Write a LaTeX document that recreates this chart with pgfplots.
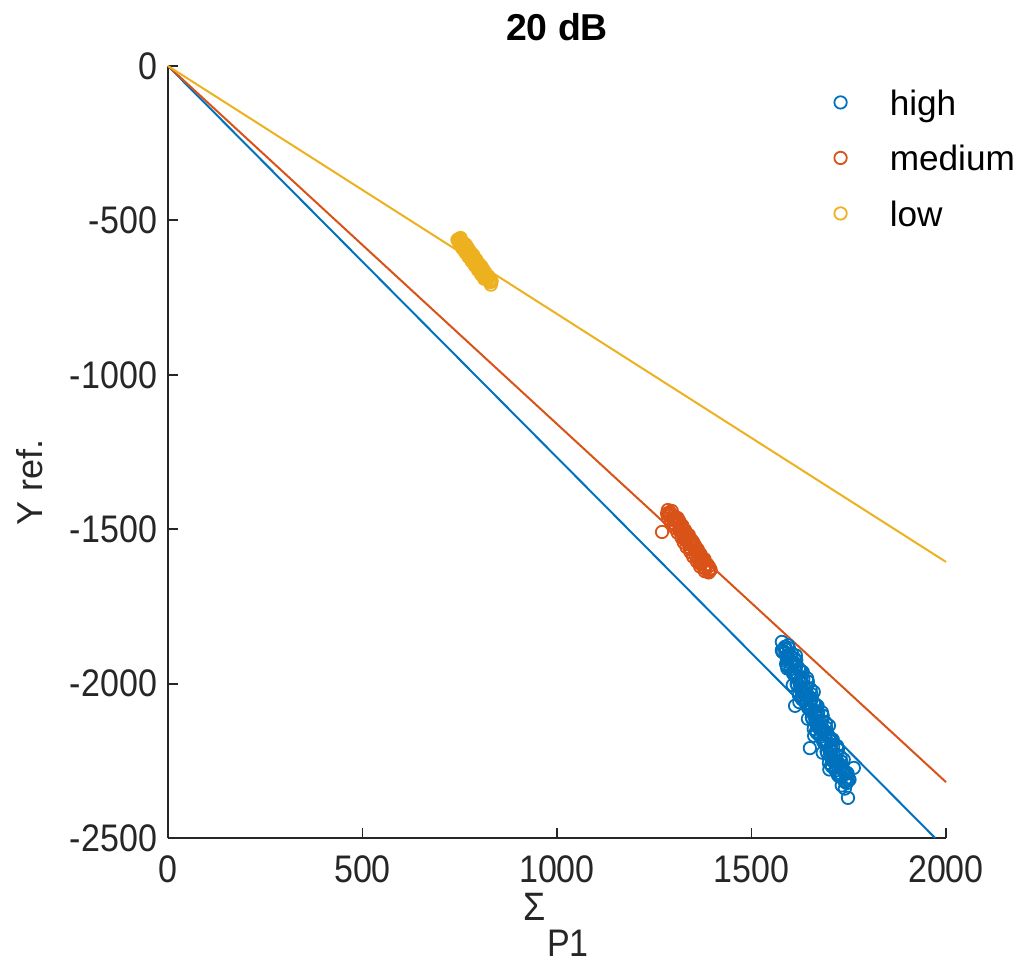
\documentclass[border=0pt]{standalone}
\usepackage{pgfplots}
\pgfplotsset{compat=1.18}
\usepackage{fontspec}
\setmainfont{Liberation Sans}
\definecolor{mblue}{rgb}{0,0.447,0.741}
\definecolor{morange}{rgb}{0.85,0.325,0.098}
\definecolor{myellow}{rgb}{0.929,0.694,0.125}
\definecolor{axgray}{rgb}{0.15,0.15,0.15}
\newcommand{\tall}[1]{\scalebox{1}[1.13]{#1}}
\begin{document}
\begin{tikzpicture}
\path[use as bounding box] (0,0) rectangle (511pt,482pt);
\begin{axis}[
  at={(84pt,63pt)}, anchor=south west,
  scale only axis, width=389pt, height=386pt,
  xmin=0, xmax=2000, ymin=-2500, ymax=0,
  xtick={0,500,1000,1500,2000},
  ytick={-2500,-2000,-1500,-1000,-500,0},
  axis lines=left, axis line style={-, axgray, line width=0.9pt},
  tick align=inside, major tick length=5pt,
  tick style={axgray, line width=0.9pt},
  /pgf/number format/assume math mode=true,
  /pgf/number format/1000 sep={},
  ticklabel style={font=\fontsize{17}{20}\selectfont, text=axgray},
  xticklabel={\tall{\pgfmathprintnumber{\tick}}},
  yticklabel={\tall{\pgfmathprintnumber{\tick}}},
  xticklabel style={yshift=-5.5pt},
  yticklabel style={xshift=-2pt},
  clip=false,
  legend style={draw=none, fill=none, at={(axis description cs:0.856,0.975)}, anchor=north west,
    font=\fontsize{17.6}{20}\selectfont, row sep=9.5pt, inner sep=0pt,
    /tikz/every odd column/.append style={column sep=19.5pt}},
  legend cell align=left,
  legend image code/.code={\draw[mark repeat=2,mark phase=2,#1] plot coordinates {(0pt,0.75pt)(9pt,0.75pt)(18pt,0.75pt)};},
]
\addplot[only marks, mark=o, mark size=3.1pt, mblue, mark options={line width=0.9pt}] coordinates {
(1586,-1881)(1578,-1892)(1604,-1903)(1592,-1914)(1615,-1925)(1589,-1936)(1613,-1947)(1625,-1957)(1607,-1968)(1628,-1979)
(1625,-1990)(1616,-2001)(1642,-2012)(1630,-2023)(1654,-2034)(1628,-2045)(1652,-2056)(1663,-2067)(1645,-2078)(1666,-2089)
(1663,-2100)(1655,-2110)(1681,-2121)(1669,-2132)(1692,-2143)(1666,-2154)(1690,-2165)(1702,-2176)(1684,-2187)(1705,-2198)
(1702,-2209)(1693,-2220)(1719,-2231)(1707,-2242)(1731,-2253)(1705,-2263)(1729,-2274)(1740,-2285)(1722,-2296)(1743,-2307)
(1740,-2318)
(1594,-1876)(1586,-1887)(1580,-1898)(1614,-1909)(1592,-1920)(1608,-1931)(1591,-1942)(1622,-1952)(1632,-1963)(1616,-1974)
(1633,-1985)(1624,-1996)(1618,-2007)(1652,-2018)(1631,-2029)(1647,-2040)(1630,-2051)(1660,-2062)(1670,-2073)(1654,-2084)
(1671,-2095)(1663,-2105)(1657,-2116)(1691,-2127)(1669,-2138)(1685,-2149)(1668,-2160)(1699,-2171)(1709,-2182)(1693,-2193)
(1710,-2204)(1701,-2215)(1695,-2226)(1729,-2237)(1708,-2248)(1724,-2258)(1707,-2269)(1737,-2280)(1747,-2291)(1731,-2302)
(1748,-2313)
(1596,-1885)(1580,-1896)(1593,-1907)(1610,-1918)(1592,-1929)(1616,-1940)(1592,-1951)(1630,-1961)(1610,-1972)(1643,-1983)
(1645,-1994)(1606,-2005)(1630,-2016)(1660,-2027)(1622,-2038)(1655,-2049)(1623,-2060)(1668,-2071)(1648,-2082)(1681,-2093)
(1683,-2104)(1645,-2114)(1669,-2125)(1699,-2136)(1660,-2147)(1693,-2158)(1661,-2169)(1707,-2180)(1687,-2191)(1720,-2202)
(1722,-2213)(1683,-2224)(1707,-2235)(1737,-2246)(1699,-2257)(1732,-2267)(1700,-2278)(1745,-2289)(1725,-2300)(1752,-2311)
(1745,-2322)
(1589,-1888)(1587,-1899)(1600,-1910)(1592,-1921)(1601,-1932)(1614,-1943)(1600,-1954)(1615,-1964)(1615,-1975)(1626,-1986)
(1628,-1997)(1625,-2008)(1638,-2019)(1630,-2030)(1640,-2041)(1653,-2052)(1639,-2063)(1653,-2074)(1653,-2085)(1664,-2096)
(1666,-2107)(1664,-2117)(1677,-2128)(1669,-2139)(1678,-2150)(1691,-2161)(1677,-2172)(1692,-2183)(1692,-2194)(1703,-2205)
(1705,-2216)(1702,-2227)(1715,-2238)(1707,-2249)(1717,-2260)(1730,-2270)(1716,-2281)(1730,-2292)(1730,-2303)(1741,-2314)
(1578,-1865)(1612,-2072)(1650,-2209)(1763,-2273)(1748,-2370)(1740,-2340)(1732,-2330)
};
\addlegendentry{high}
\addplot[only marks, mark=o, mark size=3.1pt, morange, mark options={line width=0.9pt}] coordinates {
(1290,-1445)(1287,-1453)(1304,-1461)(1298,-1468)(1315,-1476)(1301,-1484)(1317,-1492)(1325,-1500)(1316,-1507)(1331,-1515)
(1330,-1523)(1327,-1531)(1344,-1539)(1338,-1546)(1355,-1554)(1341,-1562)(1357,-1570)(1365,-1578)(1356,-1585)(1371,-1593)
(1370,-1601)(1367,-1609)(1384,-1617)(1378,-1624)(1395,-1632)(1390,-1640)
(1295,-1441)(1291,-1449)(1290,-1457)(1310,-1464)(1301,-1472)(1312,-1480)(1305,-1488)(1322,-1496)(1329,-1503)(1324,-1511)
(1335,-1519)(1331,-1527)(1330,-1535)(1350,-1542)(1341,-1550)(1352,-1558)(1345,-1566)(1362,-1574)(1369,-1581)(1364,-1589)
(1375,-1597)(1371,-1605)(1370,-1613)(1390,-1620)(1381,-1628)(1392,-1636)
(1283,-1449)(1300,-1457)(1286,-1465)(1313,-1472)(1293,-1480)(1322,-1488)(1303,-1496)(1328,-1504)(1310,-1511)(1339,-1519)
(1320,-1527)(1346,-1535)(1326,-1543)(1353,-1550)(1333,-1558)(1362,-1566)(1343,-1574)(1368,-1582)(1350,-1589)(1379,-1597)
(1360,-1605)(1386,-1613)(1368,-1621)(1393,-1628)(1380,-1636)
(1270,-1509)(1285,-1438)
};
\addlegendentry{medium}
\addplot[only marks, mark=o, mark size=3.1pt, myellow, mark options={line width=0.9pt}] coordinates {
(748,-560)(747,-567)(760,-574)(757,-581)(770,-588)(762,-595)(774,-602)(781,-609)(776,-616)(787,-623)
(788,-630)(787,-637)(800,-644)(797,-651)(810,-658)(802,-665)(814,-672)(821,-679)(816,-686)(827,-693)(828,-700)
(752,-557)(750,-564)(750,-571)(765,-578)(760,-585)(769,-592)(766,-599)(779,-606)(785,-613)(782,-620)
(792,-627)(790,-634)(790,-641)(805,-648)(800,-655)(809,-662)(806,-669)(819,-676)(825,-683)(822,-690)(832,-697)
(744,-563)(757,-570)(749,-577)(767,-584)(757,-591)(775,-598)(765,-605)(783,-612)(773,-619)(791,-626)
(781,-633)(799,-640)(789,-647)(807,-654)(797,-661)(815,-668)(805,-675)(823,-682)(813,-689)(829,-696)
(830,-708)
};
\addlegendentry{low}
\addplot[mblue, line width=1pt, forget plot] coordinates {(0,0)(1972,-2500)};
\addplot[morange, line width=1pt, forget plot] coordinates {(0,0)(2000,-2319)};
\addplot[myellow, line width=1pt, forget plot] coordinates {(0,0)(2000,-1606)};
\end{axis}
\node[font=\bfseries\fontsize{18.7}{22}\selectfont, text=black] at (278.5pt,468.5pt) {20 dB};
\node[rotate=90, font=\fontsize{18}{22}\selectfont, text=axgray] at (15pt,241pt) {Y ref.};
\node[font=\fontsize{18}{22}\selectfont, text=axgray] at (267.5pt,28.5pt) {\scalebox{1}[1.1]{Σ}};
\node[font=\fontsize{17}{20}\selectfont, text=axgray] at (284pt,10.5pt) {\tall{P1}};
\end{tikzpicture}
\end{document}
